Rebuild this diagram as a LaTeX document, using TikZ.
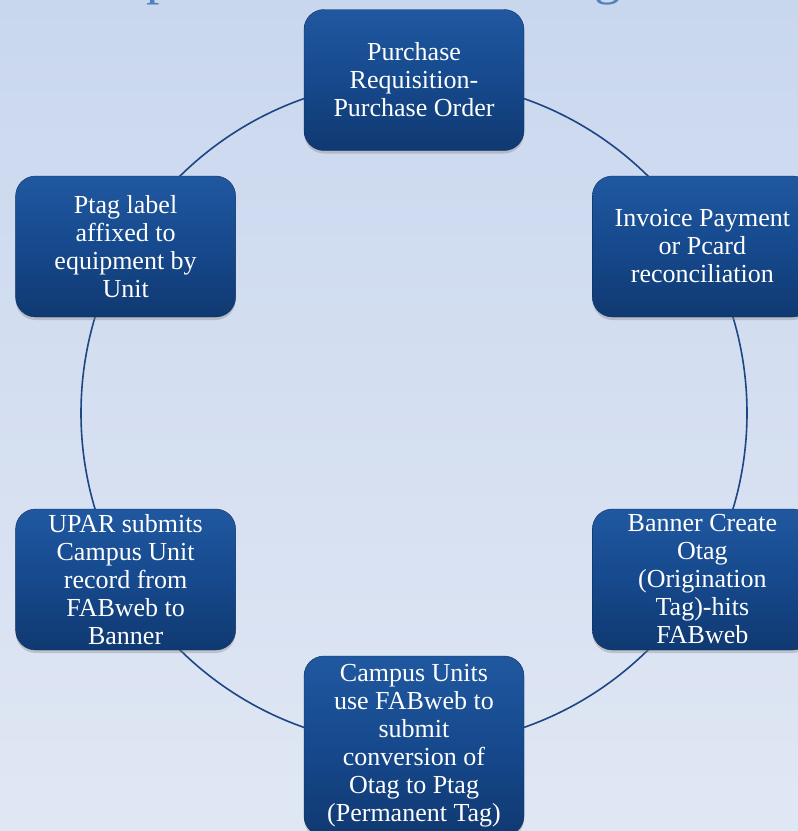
\documentclass[tikz,border=0pt]{standalone}
\usepackage{fontspec}
\setmainfont{Liberation Serif}
\usetikzlibrary{calc,shadows}
\definecolor{bgtop}{RGB}{201,215,238}
\definecolor{bgbot}{RGB}{224,231,244}
\definecolor{boxtop}{RGB}{32,88,160}
\definecolor{boxmid}{RGB}{22,73,141}
\definecolor{boxbot}{RGB}{16,57,113}
\definecolor{ringblue}{RGB}{28,70,132}
\definecolor{titleblue}{RGB}{79,129,189}

\begin{document}
\begin{tikzpicture}[x=1pt,y=1pt,
  stagebox/.style={rectangle,rounded corners=20pt,draw=boxbot!85!black,
    top color=boxtop,bottom color=boxbot,middle color=boxmid,
    text=white,align=center,
    minimum width=220pt,minimum height=141pt,inner ysep=0pt,
    font=\rmfamily\fontsize{26}{28}\selectfont,
    drop shadow={opacity=0.35,shadow xshift=0pt,shadow yshift=-3pt}}]
  % Background
  \useasboundingbox (0,0) rectangle (798,-831);
  \shade[top color=bgtop,bottom color=bgbot] (0,0) rectangle (798,-831);
  % Title, cut off by the top edge
  \node[anchor=base west,inner sep=0pt,text=titleblue,
    font=\rmfamily\fontsize{54}{54}\selectfont] (titlep) at (146,7) {p};
  \node[anchor=base west,inner sep=0pt,text=titleblue,
    font=\rmfamily\fontsize{54}{54}\selectfont] (titleg) at (594,7) {g};
  % Cycle
  \coordinate (ctr) at (414,-413);
  \draw[ringblue,line width=1.6pt] (ctr) circle (333);
  % Stages
  \node[stagebox] (order) at ($(ctr)+(90:333)$)
    {Purchase\\Requisition-\\Purchase Order};
  \node[stagebox] (invoice) at ($(ctr)+(30:333)$)
    {Invoice Payment\\or Pcard\\reconciliation};
  \node[stagebox] (otag) at ($(ctr)+(-30:333)$)
    {Banner Create\\Otag\\(Origination\\Tag)-hits\\FABweb};
  \node[stagebox,minimum height=180pt] (convert) at ($(ctr)+(-90:333)$)
    {Campus Units\\use FABweb to\\submit\\conversion of\\Otag to Ptag\\(Permanent Tag)};
  \node[stagebox] (upar) at ($(ctr)+(210:333)$)
    {UPAR submits\\Campus Unit\\record from\\FABweb to\\Banner};
  \node[stagebox] (ptag) at ($(ctr)+(150:333)$)
    {Ptag label\\affixed to\\equipment by\\Unit};
\end{tikzpicture}
\end{document}
